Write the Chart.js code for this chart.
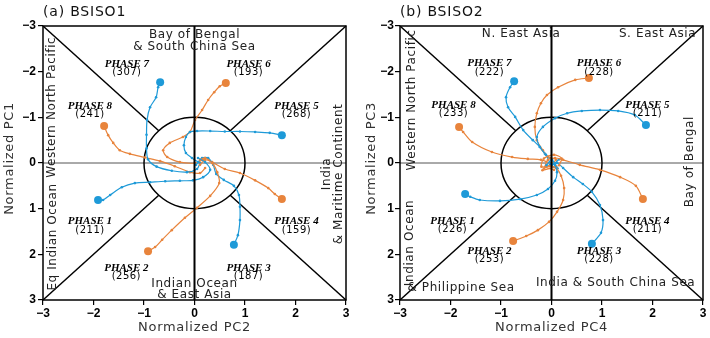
<!DOCTYPE html>
<html>
<head>
<meta charset="utf-8">
<script src="https://cdn.jsdelivr.net/npm/chart.js@4.4.1/dist/chart.umd.min.js"></script>
<style>
    body { margin: 0; background: #fff; }
    #wrap { position: relative; width: 710px; height: 338px; }
    canvas { position: absolute; top: 0; }
</style>
</head>
<body>
<div id="wrap">
    <canvas id="panelA" width="355" height="338" style="left:0"></canvas>
    <canvas id="panelB" width="355" height="338" style="left:355px"></canvas>
</div>
<script>
// tick values for both axes
const tickVals = [-3, -2, -1, 0, 1, 2, 3]
const phaseNames = ["PHASE 1", "PHASE 2", "PHASE 3", "PHASE 4", "PHASE 5", "PHASE 6", "PHASE 7", "PHASE 8"]

// number of events per phase
const countsA = [211, 256, 187, 159, 268, 193, 307, 241]
const countsB = [226, 253, 228, 211, 211, 228, 222, 233]

// BSISO1 composite tracks (PC2, PC1), from centre out to the big dot
const trackA1 = [[0.07, -0.11], [0.21, -0.02], [0.31, 0.15], [0.17, 0.31], [-0.03, 0.38], [-0.29, 0.39], [-0.58, 0.40], [-0.88, 0.42], [-1.18, 0.44], [-1.44, 0.53], [-1.67, 0.70], [-1.81, 0.81], [-1.91, 0.81]]
const trackA2 = [[0.11, -0.07], [0.21, -0.11], [0.35, 0.0], [0.45, 0.20], [0.49, 0.44], [0.31, 0.72], [0.05, 0.98], [-0.19, 1.20], [-0.45, 1.47], [-0.64, 1.68], [-0.78, 1.84], [-0.92, 1.93]]
const trackA3 = [[0.03, 0.04], [0.15, -0.11], [0.27, -0.11], [0.37, 0.04], [0.43, 0.24], [0.58, 0.37], [0.78, 0.50], [0.88, 0.70], [0.90, 0.96], [0.90, 1.25], [0.86, 1.58], [0.78, 1.79]]
const trackA4 = [[0.11, 0.04], [0.21, -0.07], [0.35, -0.02], [0.60, 0.13], [0.90, 0.22], [1.20, 0.38], [1.46, 0.55], [1.59, 0.68], [1.73, 0.79]]
const trackA5 = [[0.07, -0.02], [-0.05, -0.11], [-0.17, -0.22], [-0.21, -0.39], [-0.17, -0.57], [-0.09, -0.68], [0.05, -0.70], [0.31, -0.70], [0.60, -0.69], [0.90, -0.69], [1.20, -0.68], [1.49, -0.66], [1.73, -0.61]]
const trackA6 = [[0.17, -0.07], [0.01, 0.0], [-0.29, -0.02], [-0.54, -0.13], [-0.62, -0.28], [-0.49, -0.44], [-0.23, -0.57], [-0.09, -0.68], [0.01, -0.94], [0.15, -1.16], [0.27, -1.38], [0.39, -1.55], [0.50, -1.68], [0.62, -1.75]]
const trackA7 = [[0.11, 0.0], [0.05, 0.13], [-0.15, 0.20], [-0.45, 0.17], [-0.75, 0.08], [-0.92, -0.08], [-0.95, -0.32], [-0.95, -0.62], [-0.94, -0.94], [-0.88, -1.22], [-0.76, -1.44], [-0.72, -1.66], [-0.68, -1.77]]
const trackA8 = [[0.21, 0.11], [0.11, 0.22], [-0.09, 0.20], [-0.39, 0.07], [-0.68, -0.04], [-0.98, -0.12], [-1.28, -0.20], [-1.48, -0.28], [-1.61, -0.44], [-1.71, -0.61], [-1.79, -0.81]]

// BSISO2 composite tracks (PC4, PC3)
const trackB1 = [[-0.10, 0.05], [0.01, -0.07], [0.07, 0.04], [0.11, 0.20], [0.07, 0.39], [-0.07, 0.57], [-0.29, 0.70], [-0.62, 0.79], [-1.02, 0.83], [-1.42, 0.81], [-1.61, 0.74], [-1.71, 0.68]]
const trackB2 = [[0.15, 0.05], [0.20, -0.10], [0.05, -0.18], [-0.15, -0.10], [-0.20, 0.08], [-0.03, 0.07], [0.09, 0.11], [0.19, 0.28], [0.25, 0.55], [0.23, 0.81], [0.11, 1.07], [-0.05, 1.29], [-0.27, 1.47], [-0.50, 1.60], [-0.76, 1.71]]
const trackB3 = [[0.12, 0.12], [-0.03, 0.04], [0.11, 0.0], [0.23, 0.11], [0.43, 0.31], [0.62, 0.46], [0.80, 0.63], [0.96, 0.92], [1.02, 1.25], [0.98, 1.53], [0.80, 1.77]]
const trackB4 = [[0.05, 0.15], [-0.12, 0.08], [-0.07, -0.07], [0.07, -0.11], [0.23, -0.07], [0.56, 0.04], [0.96, 0.15], [1.36, 0.31], [1.67, 0.50], [1.81, 0.79]]
const trackB5 = [[0.15, -0.08], [0.01, 0.04], [-0.11, -0.18], [-0.23, -0.35], [-0.29, -0.57], [-0.17, -0.79], [0.07, -0.98], [0.31, -1.09], [0.60, -1.14], [0.96, -1.16], [1.32, -1.14], [1.65, -1.05], [1.87, -0.83]]
const trackB6 = [[-0.15, 0.12], [0.09, -0.07], [-0.07, -0.13], [-0.17, -0.28], [-0.29, -0.50], [-0.33, -0.79], [-0.29, -1.09], [-0.21, -1.31], [-0.09, -1.49], [0.13, -1.66], [0.47, -1.82], [0.74, -1.86]]
const trackB7 = [[0.10, 0.10], [0.03, 0.0], [-0.03, -0.11], [-0.13, -0.20], [-0.23, -0.35], [-0.37, -0.50], [-0.56, -0.72], [-0.72, -1.01], [-0.86, -1.22], [-0.90, -1.44], [-0.82, -1.66], [-0.74, -1.79]]
const trackB8 = [[-0.18, 0.16], [0.09, 0.07], [-0.03, 0.0], [-0.21, -0.07], [-0.47, -0.09], [-0.78, -0.13], [-1.18, -0.24], [-1.57, -0.46], [-1.75, -0.68], [-1.83, -0.79]]

const blue = "#1e9ad8"
const orange = "#e8843c"

function minusFmt(v) {
    return v < 0 ? "\u2212" + Math.abs(v) : String(v)
}

// draws circle, diagonals, zero lines, frame and all the text
const decor = {
    id: "decor",
    beforeDatasetsDraw(chart) {
        const c = chart.ctx, sx = chart.scales.x, sy = chart.scales.y
        const X = v => sx.getPixelForValue(v), Y = v => sy.getPixelForValue(v)
        const r = Math.SQRT1_2
        c.save()
        // horizontal zero line
        c.strokeStyle = "#555"
        c.lineWidth = 1
        c.beginPath(); c.moveTo(X(-3), Y(0)); c.lineTo(X(3), Y(0)); c.stroke()
        // diagonals from corners to the unit circle
        c.strokeStyle = "#000"
        c.lineWidth = 1.5
        const corners = [[-1, -1], [1, -1], [1, 1], [-1, 1]]
        corners.forEach(k => {
            c.beginPath()
            c.moveTo(X(3 * k[0]), Y(3 * k[1]))
            c.lineTo(X(r * k[0]), Y(r * k[1]))
            c.stroke()
        })
        // unit circle
        c.beginPath()
        c.ellipse(X(0), Y(0), Math.abs(X(1) - X(0)), Math.abs(Y(1) - Y(0)), 0, 0, Math.PI * 2)
        c.stroke()
        c.restore()
    },
    afterDatasetsDraw(chart, args, opts) {
        const c = chart.ctx, sx = chart.scales.x, sy = chart.scales.y
        const X = v => sx.getPixelForValue(v), Y = v => sy.getPixelForValue(v)
        const a = chart.chartArea
        c.save()
        // vertical zero line
        c.strokeStyle = "#000"
        c.lineWidth = 2
        c.beginPath(); c.moveTo(X(0), a.top); c.lineTo(X(0), a.bottom); c.stroke()
        // frame
        c.lineWidth = 1.5
        c.strokeRect(a.left, a.top, a.right - a.left, a.bottom - a.top)

        c.textAlign = "center"
        c.textBaseline = "middle"
        c.fillStyle = "#000"

        // phase labels
        opts.phasePos.forEach((p, i) => {
            c.letterSpacing = "0px"
            c.font = "bold italic 11px 'Liberation Serif'"
            c.fillText(phaseNames[i], X(p[0]), Y(p[1]))
            c.font = "10px 'DejaVu Sans'"
            c.letterSpacing = "0.5px"
            c.fillText("(" + opts.counts[i] + ")", X(p[0]), Y(p[1] + opts.countGap))
        })

        // region labels
        c.fillStyle = "#222"
        c.font = "12px 'DejaVu Sans'"
        c.letterSpacing = "0.6px"
        opts.regions.forEach(t => {
            if (t.rot) {
                c.save()
                c.translate(X(t.x), Y(t.y))
                c.rotate(-Math.PI / 2)
                c.fillText(t.text, 0, 0)
                c.restore()
            } else {
                c.fillText(t.text, X(t.x), Y(t.y))
            }
        })

        // panel title and axis titles
        c.fillStyle = "#111"
        c.font = "14px 'DejaVu Sans'"
        c.letterSpacing = "0.8px"
        c.textAlign = "left"
        c.fillText(opts.title, a.left, 12)
        c.textAlign = "center"
        c.font = "13px 'DejaVu Sans'"
        c.letterSpacing = "0.7px"
        c.fillStyle = "#333"
        c.fillText(opts.xTitle, X(0), 328)
        c.save()
        c.translate(opts.yTitleX, Y(-0.1))
        c.rotate(-Math.PI / 2)
        c.fillText(opts.yTitle, 0, 0)
        c.restore()
        c.restore()
    }
}

function makeSets(tracks) {
    return tracks.map((t, i) => {
        const col = i % 2 === 0 ? blue : orange
        return {
            data: t.map(p => ({ x: p[0], y: p[1] })),
            showLine: true,
            borderColor: col,
            backgroundColor: col,
            borderWidth: 1.2,
            pointRadius: t.map((p, j) => j === t.length - 1 ? 4 : 1.3),
            pointBorderWidth: 0,
            pointHoverRadius: 0,
            tension: 0.3
        }
    })
}

function makePanel(id, tracks, cfg) {
    const tickFont = { family: "'Liberation Sans'", size: 12, weight: "bold" }
    new Chart(document.getElementById(id).getContext("2d"), {
        type: "scatter",
        data: { datasets: makeSets(tracks) },
        plugins: [decor],
        options: {
            responsive: false,
            animation: false,
            layout: { padding: { top: 26, right: cfg.padRight, left: 0, bottom: 0 } },
            plugins: {
                legend: { display: false },
                tooltip: { enabled: false },
                decor: cfg
            },
            scales: {
                x: {
                    type: "linear", min: -3, max: 3,
                    afterBuildTicks: s => { s.ticks = tickVals.map(v => ({ value: v })) },
                    ticks: { callback: minusFmt, font: tickFont, color: "#000", padding: 1, maxRotation: 0 },
                    grid: { drawOnChartArea: false, tickLength: 5, color: "#000", lineWidth: 1.2 },
                    border: { display: false },
                    afterFit: s => { s.height = 38 }
                },
                y: {
                    type: "linear", min: -3, max: 3, reverse: true,
                    afterBuildTicks: s => { s.ticks = tickVals.map(v => ({ value: v })) },
                    ticks: { callback: minusFmt, font: tickFont, color: "#000", padding: cfg.yTickPad },
                    grid: { drawOnChartArea: false, tickLength: 5, color: "#000", lineWidth: 1.2 },
                    border: { display: false },
                    afterFit: s => { s.width = cfg.yAxisWidth }
                }
            }
        }
    })
}

makePanel("panelA", [trackA1, trackA2, trackA3, trackA4, trackA5, trackA6, trackA7, trackA8], {
    title: "(a) BSISO1",
    xTitle: "Normalized PC2",
    yTitle: "Normalized PC1",
    yTitleX: 10,
    yAxisWidth: 43,
    yTickPad: 2,
    padRight: 9,
    counts: countsA,
    countGap: 0.19,
    phasePos: [[-2.07, 1.28], [-1.35, 2.30], [1.07, 2.30], [2.02, 1.28], [2.02, -1.25], [1.07, -2.17], [-1.34, -2.17], [-2.07, -1.25]],
    regions: [
        { text: "Bay of Bengal", x: 0, y: -2.80 },
        { text: "& South China Sea", x: 0, y: -2.55 },
        { text: "Indian Ocean", x: 0, y: 2.64 },
        { text: "& East Asia", x: 0, y: 2.88 },
        { text: "Western North Pacific", x: -2.83, y: -1.22, rot: true },
        { text: "Eq Indian Ocean", x: -2.80, y: 1.62, rot: true },
        { text: "India", x: 2.62, y: 0.24, rot: true },
        { text: "& Maritime Continent", x: 2.86, y: 0.24, rot: true }
    ]
})

makePanel("panelB", [trackB1, trackB2, trackB3, trackB4, trackB5, trackB6, trackB7, trackB8], {
    title: "(b) BSISO2",
    xTitle: "Normalized PC4",
    yTitle: "Normalized PC3",
    yTitleX: 17,
    yAxisWidth: 45,
    yTickPad: 1,
    padRight: 7,
    counts: countsB,
    countGap: 0.19,
    phasePos: [[-1.96, 1.27], [-1.23, 1.92], [0.94, 1.92], [1.90, 1.27], [1.90, -1.27], [0.94, -2.18], [-1.23, -2.18], [-1.94, -1.27]],
    regions: [
        { text: "N. East Asia", x: -0.60, y: -2.82 },
        { text: "S. East Asia", x: 2.10, y: -2.82 },
        { text: "Western North Pacific", x: -2.77, y: -1.38, rot: true },
        { text: "Bay of Bengal", x: 2.74, y: -0.03, rot: true },
        { text: "Indian Ocean", x: -2.80, y: 1.75, rot: true },
        { text: "& Philippine Sea", x: -1.79, y: 2.73 },
        { text: "India & South China Sea", x: 1.27, y: 2.62 }
    ]
})
</script>
</body>
</html>
